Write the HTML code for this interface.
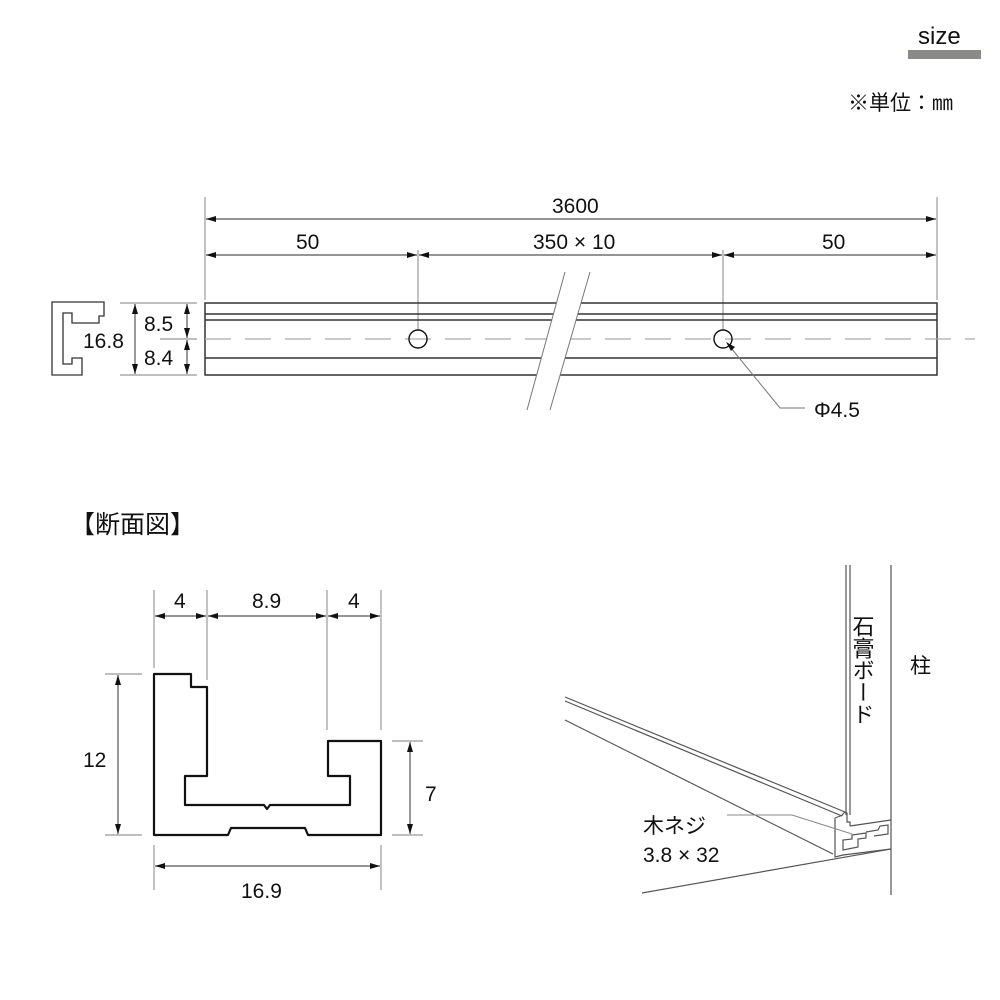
<!DOCTYPE html>
<html><head><meta charset="utf-8"><style>
html,body{margin:0;padding:0;background:#fff;}
svg{display:block;}
text{font-family:"Liberation Sans","Noto Sans CJK JP",sans-serif;fill:#111;}
</style></head><body>
<svg width="1000" height="1000" viewBox="0 0 1000 1000" xmlns="http://www.w3.org/2000/svg">
<defs>
<marker id="a" viewBox="0 0 10 6" refX="10" refY="3" markerWidth="10" markerHeight="6" orient="auto-start-reverse" markerUnits="userSpaceOnUse"><path d="M0,0 L10,3 L0,6 Z" fill="#111"/></marker>
</defs>
<text x="918" y="44" font-size="24">size</text>
<rect x="908" y="50" width="73" height="9" fill="#8a8a88"/>
<text x="848" y="110" font-size="21">※単位：㎜</text>

<!-- top dims -->
<g stroke="#999" stroke-width="1.2" fill="none">
<line x1="205" y1="197" x2="205" y2="300"/>
<line x1="937" y1="197" x2="937" y2="300"/>
<line x1="418" y1="250" x2="418" y2="330"/>
<line x1="723" y1="250" x2="723" y2="330"/>
<line x1="120" y1="303" x2="197" y2="303"/>
<line x1="120" y1="375" x2="197" y2="375"/>
<line x1="160" y1="339" x2="197" y2="339"/>
</g>
<g stroke="#555" stroke-width="1.2" marker-start="url(#a)" marker-end="url(#a)">
<line x1="206" y1="219" x2="936" y2="219"/>
<line x1="206" y1="255" x2="417" y2="255"/>
<line x1="419" y1="255" x2="722" y2="255"/>
<line x1="724" y1="255" x2="936" y2="255"/>
<line x1="135" y1="304" x2="135" y2="374"/>
<line x1="187" y1="304" x2="187" y2="338"/>
<line x1="187" y1="340" x2="187" y2="374"/>
</g>
<g font-size="21">
<text x="552" y="213">3600</text>
<text x="296" y="249">50</text>
<text x="533" y="249">350 × 10</text>
<text x="822" y="249">50</text>
<text x="83" y="348">16.8</text>
<text x="144" y="331">8.5</text>
<text x="144" y="365">8.4</text>
</g>

<!-- small profile -->
<path d="M52,302 H104 V316 H99 V323 H72 V313 H63 V364 H72 V358 H82 V375 H52 Z" fill="none" stroke="#333" stroke-width="1.3"/>

<!-- bar -->
<g stroke="#333" stroke-width="1.5" fill="none">
<rect x="205" y="303" width="732" height="72"/>
<line x1="205" y1="314" x2="937" y2="314"/>
<line x1="205" y1="320" x2="937" y2="320"/>
<line x1="205" y1="358" x2="937" y2="358"/>
</g>
<line x1="205" y1="339" x2="975" y2="339" stroke="#aaa" stroke-width="1.2" stroke-dasharray="26,14"/>
<polygon points="565,272 590,272 550,410 527,410" fill="#fff"/>
<line x1="565" y1="272" x2="527" y2="410" stroke="#777" stroke-width="1"/>
<line x1="590" y1="272" x2="550" y2="410" stroke="#777" stroke-width="1"/>
<circle cx="418" cy="339" r="9" fill="none" stroke="#111" stroke-width="1.4"/>
<circle cx="723" cy="339" r="9" fill="none" stroke="#111" stroke-width="1.4"/>
<polyline points="727,343 780,408 805,408" fill="none" stroke="#777" stroke-width="1"/>
<path d="M726,342 L735,347 L731,351 Z" fill="#111"/>
<text x="814" y="417" font-size="21">Φ4.5</text>

<text x="70" y="533" font-size="25">【断面図】</text>

<!-- cross section dims -->
<g stroke="#999" stroke-width="1.2">
<line x1="154" y1="590" x2="154" y2="668"/>
<line x1="207" y1="590" x2="207" y2="680"/>
<line x1="327" y1="590" x2="327" y2="730"/>
<line x1="381" y1="590" x2="381" y2="730"/>
<line x1="105" y1="674" x2="142" y2="674"/>
<line x1="105" y1="835" x2="142" y2="835"/>
<line x1="392" y1="741" x2="423" y2="741"/>
<line x1="392" y1="835" x2="423" y2="835"/>
<line x1="154" y1="845" x2="154" y2="890"/>
<line x1="381" y1="845" x2="381" y2="890"/>
</g>
<g stroke="#555" stroke-width="1.2" marker-start="url(#a)" marker-end="url(#a)">
<line x1="155" y1="616" x2="206" y2="616"/>
<line x1="208" y1="616" x2="326" y2="616"/>
<line x1="328" y1="616" x2="380" y2="616"/>
<line x1="118" y1="675" x2="118" y2="834"/>
<line x1="410" y1="742" x2="410" y2="834"/>
<line x1="155" y1="866" x2="380" y2="866"/>
</g>
<g font-size="21">
<text x="174" y="608">4</text>
<text x="252" y="608">8.9</text>
<text x="348" y="608">4</text>
<text x="83" y="767">12</text>
<text x="425" y="801">7</text>
<text x="241" y="898">16.9</text>
</g>
<path d="M154,674 H191 V687 H207 V776 H185 V805 H264 L267,809 L270,805 H350 V776 H328 V741 H381 V835 H308 L305,828 H231 L228,835 H154 Z" fill="none" stroke="#111" stroke-width="2.2" stroke-linejoin="round"/>

<!-- 3D -->
<g stroke="#555" stroke-width="1.2" fill="none">
<line x1="846" y1="565" x2="846" y2="815"/>
<line x1="850" y1="565" x2="850" y2="815"/>
<line x1="891" y1="565" x2="891" y2="895"/>
<line x1="565" y1="697" x2="845" y2="812"/>
<line x1="565" y1="701" x2="842" y2="816"/>
<line x1="565" y1="720" x2="833" y2="854"/>
<polyline points="835,818 835,857 843,855"/>
<line x1="835" y1="818" x2="843" y2="815"/>
<polyline points="842,815 845,812 847,813 847,822 850,822 850,826"/>
<line x1="850" y1="826" x2="891" y2="820"/>
<line x1="843" y1="855" x2="891" y2="849"/>
<line x1="642" y1="893" x2="891" y2="849"/>
<path d="M843,850 L843,840 L852,839 L852,835 L866,833 L866,838 L858,839 L858,847 Z"/>
<path d="M866,832 L878,830 L880,826 L888,825 L888,834 L874,836"/>
</g>
<polyline points="727,815 792,815 852,834" fill="none" stroke="#888" stroke-width="1"/>
<text x="643" y="833" font-size="21">木ネジ</text>
<text x="643" y="862" font-size="21">3.8 × 32</text>
<text font-size="22" x="862" y="615" style="writing-mode:vertical-rl">石膏ボード</text>
<text x="910" y="673" font-size="21">柱</text>
</svg>
</body></html>
